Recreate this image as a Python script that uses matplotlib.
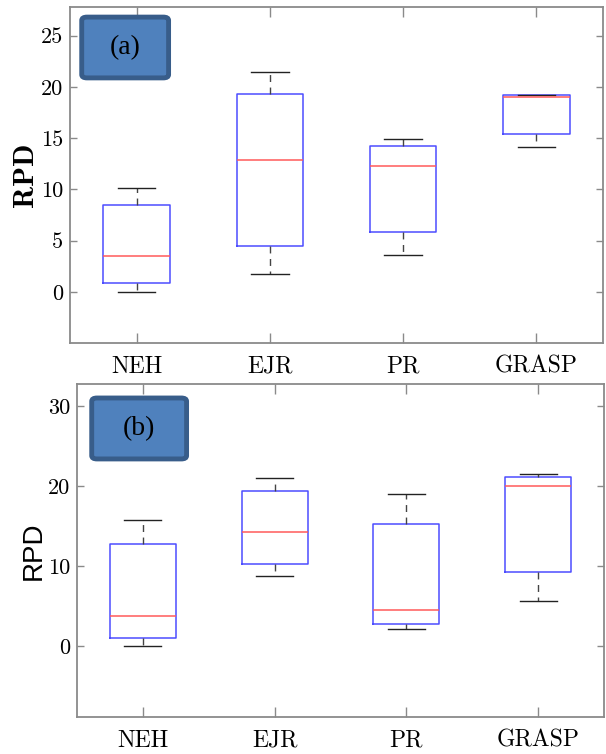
import matplotlib
matplotlib.use("Agg")
import matplotlib.pyplot as plt
from matplotlib.patches import FancyBboxPatch

categories = ["NEH", "EJR", "PR", "GRASP"]

# panel (a): lower whisker, Q1, median, Q3, upper whisker
a_whislo = [0.0, 1.7, 3.6, 14.15]
a_q1     = [0.87, 4.5, 5.8, 15.4]
a_med    = [3.5, 12.85, 12.3, 19.05]
a_q3     = [8.45, 19.27, 14.25, 19.2]
a_whishi = [10.15, 21.45, 14.9, 19.2]

# panel (b)
b_whislo = [0.0, 8.8, 2.05, 5.6]
b_q1     = [0.95, 10.2, 2.7, 9.2]
b_med    = [3.8, 14.3, 4.45, 20.05]
b_q3     = [12.75, 19.4, 15.25, 21.1]
b_whishi = [15.75, 21.05, 18.95, 21.5]

a_yticks = [0, 5, 10, 15, 20, 25]
b_yticks = [0, 10, 20, 30]

fig = plt.figure(figsize=(6.06, 7.54), dpi=100)

spine_col = "#8a8a8a"

def make_stats(lo, q1, med, q3, hi):
    return [dict(whislo=l, q1=a, med=m, q3=b, whishi=h, fliers=[], label=c)
            for l, a, m, b, h, c in zip(lo, q1, med, q3, hi, categories)]

def draw_panel(rect, stats, ylim, yticks, ylabel, ylabel_font, ylabel_size,
               labelpad, tag, tagrect):
    ax = fig.add_axes(rect)
    ax.bxp(stats, widths=0.5, capwidths=0.28, showfliers=False,
           boxprops=dict(color="#4d4dff", linewidth=1.1),
           medianprops=dict(color="#ff5a5a", linewidth=1.1),
           whiskerprops=dict(color="#444444", linewidth=1.0, linestyle=(0, (5, 4))),
           capprops=dict(color="#222222", linewidth=1.0))
    ax.set_xlim(0.5, 4.5)
    ax.set_ylim(*ylim)
    ax.set_yticks(yticks)
    ax.set_yticklabels([str(t) for t in yticks], fontfamily="cmr10", fontsize=16)
    ax.set_xticks(range(1, len(categories) + 1))
    ax.set_xticklabels(categories, fontfamily="cmr10", fontsize=17)
    for s in ax.spines.values():
        s.set_color(spine_col)
        s.set_linewidth(1.3)
    ax.tick_params(axis="x", direction="in", top=True, length=7, width=1.0,
                   color=spine_col, pad=9)
    ax.tick_params(axis="y", direction="in", right=True, length=5, width=1.0,
                   color=spine_col, pad=5)
    ax.set_ylabel(ylabel, fontfamily=ylabel_font, fontsize=ylabel_size,
                  labelpad=labelpad)
    box = FancyBboxPatch((tagrect[0], tagrect[1]), tagrect[2], tagrect[3],
                         boxstyle="round,pad=0,rounding_size=0.01",
                         transform=ax.transAxes, facecolor="#4f81bd",
                         edgecolor="#385d8a", linewidth=3.5, zorder=5,
                         clip_on=False)
    ax.add_patch(box)
    ax.text(tagrect[0] + tagrect[2] / 2, tagrect[1] + tagrect[3] / 2, tag,
            transform=ax.transAxes, ha="center", va="center",
            fontfamily="Liberation Serif", fontsize=20, zorder=6)
    return ax

draw_panel([0.1155, 0.5451, 0.8795, 0.4456],
           make_stats(a_whislo, a_q1, a_med, a_q3, a_whishi),
           (-5, 27.8), a_yticks, "RPD", "cmb10", 21, 1, "(a)",
           (0.022, 0.789, 0.163, 0.181))

draw_panel([0.127, 0.049, 0.8697, 0.4417],
           make_stats(b_whislo, b_q1, b_med, b_q3, b_whishi),
           (-8.9, 32.75), b_yticks, "RPD", "Liberation Sans", 20, 1, "(b)",
           (0.028, 0.775, 0.18, 0.183))

fig.savefig("out.png", dpi=100)
